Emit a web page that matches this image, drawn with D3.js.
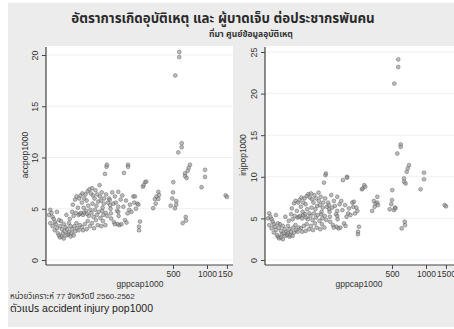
<!DOCTYPE html>
<html><head><meta charset="utf-8">
<script src="https://cdn.jsdelivr.net/npm/d3@7"></script>
<style>
html,body{margin:0;padding:0;background:#fff;}
svg{display:block;font-family:"Liberation Sans",Arial,"Noto Sans Thai","DejaVu Sans",sans-serif;}
</style></head>
<body><svg id="c" width="454" height="329"></svg>
<script>
// Data (gross provincial product per capita, thousand baht)
const gppcap1000 = [
 40,41,41,42,43,43,44,45,45,46,47,47,48,49,49,50,50,
 51,52,52,53,54,54,55,56,57,57,58,59,60,60,61,62,62,
 63,64,64,65,66,66,67,68,68,69,70,70,71,72,73,73,74,75,75,
 76,77,78,78,79,80,80,81,82,82,83,84,85,86,86,87,88,88,89,90,
 91,92,93,94,95,96,96,97,98,99,100,101,102,103,104,105,106,107,108,109,110,
 112,113,114,115,116,117,118,119,120,121,122,123,125,126,127,128,129,130,131,133,
 136,138,139,140,141,142,145,148,150,153,153,156,160,162,164,164,165,164,
 168,172,175,178,182,184,188,192,194,198,200,200,205,208,
 215,223,227,230,235,242,247,250,250,255,
 271,275,284,290,
 334,346,351,358,371,371,376,
 477,493,500,503,520,524,534,534,
 557,568,568,597,597,609,
 638,640,648,652,660,675,689,707,
 895,960,960,
 1462,1503
];
const accpop1000 = [
 4.4,4.9,3.6,4.6,4.2,3.3,4.0,3.7,2.9,3.5,4.7,3.1,2.6,3.9,2.4,3.3,2.2,
 3.8,2.3,3.0,2.6,3.5,2.1,2.8,3.2,2.4,4.4,3.0,2.5,3.6,2.7,4.0,2.3,3.3,
 2.6,3.0,4.7,5.4,2.4,4.3,3.3,5.9,2.8,4.6,3.6,6.2,3.1,5.1,4.4,2.9,6.0,4.5,3.4,
 6.3,4.6,5.6,3.2,6.5,4.4,2.9,5.1,6.0,4.6,3.5,6.4,4.8,3.0,5.8,4.5,6.7,3.8,5.3,4.3,
 6.9,3.3,4.9,6.5,4.6,7.0,3.6,5.5,6.3,4.2,3.1,6.0,4.9,6.8,3.9,5.3,4.4,6.4,3.4,5.7,4.7,
 7.3,6.2,4.1,5.8,3.3,6.6,4.8,5.1,3.8,4.4,5.5,6.0,8.4,3.4,4.6,6.4,9.1,9.3,4.3,5.6,
 6.0,5.85,5.35,5.0,4.55,4.05,6.6,5.5,3.7,6.2,3.5,5.6,4.8,3.5,5.2,4.7,4.3,6.65,
 3.4,5.9,3.5,6.3,5.2,8.5,3.9,5.8,3.65,4.55,9.3,9.1,4.9,5.4,
 4.7,6.2,5.6,6.2,5.0,5.5,5.4,3.25,2.9,3.75,
 7.15,7.3,7.6,7.65,
 5.05,5.95,5.5,6.2,6.65,5.95,6.35,
 5.3,6.0,6.6,7.6,5.05,18.0,5.75,5.4,
 10.5,20.3,19.8,11.4,11.0,3.6,
 8.45,8.2,4.2,3.85,8.0,8.7,9.0,9.3,
 7.1,8.8,8.1,
 6.3,6.15
];
const injpop1000 = [
 5.0,5.6,4.2,5.2,4.9,3.8,4.6,4.3,3.3,4.0,5.4,3.6,3.0,4.4,2.8,3.9,2.6,
 4.3,2.7,3.5,3.1,4.1,2.5,3.2,3.7,2.9,5.2,3.4,3.0,4.1,3.2,4.7,2.8,3.7,
 3.0,3.4,5.5,6.2,2.9,4.9,3.9,6.8,3.3,5.3,4.2,7.1,3.6,5.9,5.1,3.4,6.9,5.2,3.9,
 7.2,5.3,6.4,3.8,7.5,5.0,3.4,5.8,6.9,5.4,4.1,7.4,5.5,3.5,6.7,5.1,7.7,4.3,6.1,4.9,
 7.9,3.7,5.6,7.5,5.3,8.0,4.1,6.3,7.3,4.8,3.6,6.9,5.6,7.8,4.4,6.1,5.1,7.4,3.9,6.5,5.4,
 8.1,7.1,4.7,6.6,3.7,7.6,5.5,5.8,4.3,5.0,6.3,6.9,9.3,3.9,5.3,7.4,10.2,10.4,4.8,6.4,
 6.9,6.6,6.1,5.8,5.2,4.6,7.8,6.3,4.2,7.1,3.9,6.5,5.5,4.0,5.9,5.3,4.9,7.6,
 3.8,6.7,3.9,7.1,6.0,9.6,4.4,6.6,4.1,5.2,10.0,9.9,5.6,6.2,
 5.4,6.9,6.4,7.0,5.6,6.3,5.9,3.4,3.1,4.0,
 8.5,8.6,9.0,8.8,
 5.9,7.1,6.4,6.8,7.6,6.9,6.6,
 6.1,6.7,7.2,8.4,6.0,21.2,6.3,6.2,
 12.8,24.1,23.2,13.9,13.6,3.8,
 9.8,9.4,4.6,4.2,9.2,10.6,11.0,11.4,
 8.5,10.5,9.7,
 6.6,6.45
];
const xTicks = [500, 1000, 1500];
const yTicksAcc = [0, 5, 10, 15, 20];
const yTicksInj = [0, 5, 10, 15, 20, 25];
const titleText = "อัตราการเกิดอุบัติเหตุ และ ผู้บาดเจ็บ ต่อประชากรพันคน";
const subtitleText = "ที่มา ศูนย์ข้อมูลอุบัติเหตุ";
const note1 = "หน่วยวิเคราะห์ 77 จังหวัดปี 2560-2562";
const note2 = "ตัวแปร accident injury pop1000";

const svg = d3.select("#c");
const BG = "#ececec";
svg.append("rect").attr("x",8).attr("y",3).attr("width",446).attr("height",324).attr("fill",BG);

svg.append("text").attr("x",223).attr("y",23).attr("text-anchor","middle")
  .attr("font-size",13.3).attr("font-weight","bold").attr("fill","#2a2a2a").text(titleText);
svg.append("text").attr("x",251).attr("y",37).attr("text-anchor","middle")
  .attr("font-size",8.5).attr("font-weight","bold").attr("fill","#333").text(subtitleText);

function panel(cfg){
  const g = svg.append("g");
  if (cfg.bg) g.append("rect").attr("x",cfg.bgX).attr("y",40).attr("width",454-cfg.bgX).attr("height",250).attr("fill",BG);
  const x = d3.scaleLog().domain([37.6,1733]).range([cfg.x0, cfg.x0+188]);
  const y = d3.scaleLinear().domain([0, cfg.ymax]).range([260, cfg.yTop]);
  g.append("rect").attr("x",cfg.x0).attr("y",46).attr("width",cfg.w).attr("height",265-46).attr("fill","#fff");
  g.selectAll(".gl").data(cfg.yTicks).join("line")
    .attr("x1",cfg.x0+1).attr("x2",cfg.x0+cfg.w).attr("y1",d=>y(d)).attr("y2",d=>y(d))
    .attr("stroke","#efefef").attr("stroke-width",1);
  g.selectAll("circle").data(gppcap1000.map((v,i)=>[v,cfg.vals[i]])).join("circle")
    .attr("cx",d=>x(d[0])).attr("cy",d=>y(d[1])).attr("r",1.9)
    .attr("fill","#909090").attr("fill-opacity",0.6).attr("stroke","#606060").attr("stroke-opacity",0.8).attr("stroke-width",0.6);
  const ya = g.append("g").attr("transform",`translate(${cfg.x0},0)`)
    .call(d3.axisLeft(y).tickValues(cfg.yTicks).tickSize(4).tickPadding(3));
  ya.select(".domain").attr("d",`M0,47V265`).attr("stroke","#444").attr("stroke-width",1.2);
  ya.selectAll(".tick line").attr("stroke","#444");
  ya.selectAll(".tick text").attr("font-size",9).attr("fill","#333")
    .attr("text-anchor","middle").attr("transform","rotate(-90)")
    .attr("x",0).attr("dy",0).attr("y",-8);
  const xa = g.append("g").attr("transform",`translate(0,265)`)
    .call(d3.axisBottom(x).tickValues(xTicks).tickFormat(d3.format("d")).tickSize(4).tickPadding(2));
  xa.select(".domain").attr("d",`M${cfg.x0},0H${cfg.x0+cfg.w}`).attr("stroke","#444").attr("stroke-width",1.2);
  xa.selectAll(".tick line").attr("stroke","#444");
  xa.selectAll(".tick text").attr("font-size",8.5).attr("fill","#333");
  g.append("text").attr("transform",`translate(${cfg.titleX},${155}) rotate(-90)`)
    .attr("text-anchor","middle").attr("font-size",8.5).attr("fill","#333").text(cfg.ylabel);
  g.append("text").attr("x",cfg.x0+94).attr("y",287).attr("text-anchor","middle")
    .attr("font-size",8.5).attr("fill","#333").text("gppcap1000");
}
panel({x0:46, w:188, ymax:20, yTop:55, yTicks:yTicksAcc, vals:accpop1000, ylabel:"accpop1000", titleX:28});
panel({x0:265, w:189, ymax:25, yTop:52, yTicks:yTicksInj, vals:injpop1000, ylabel:"injpop1000", titleX:246, bg:true, bgX:233});

svg.append("text").attr("x",10).attr("y",299).attr("font-size",8).attr("fill","#333").text(note1);
svg.append("text").attr("x",10).attr("y",312).attr("font-size",10.5).attr("fill","#222").text(note2);
</script></body></html>
